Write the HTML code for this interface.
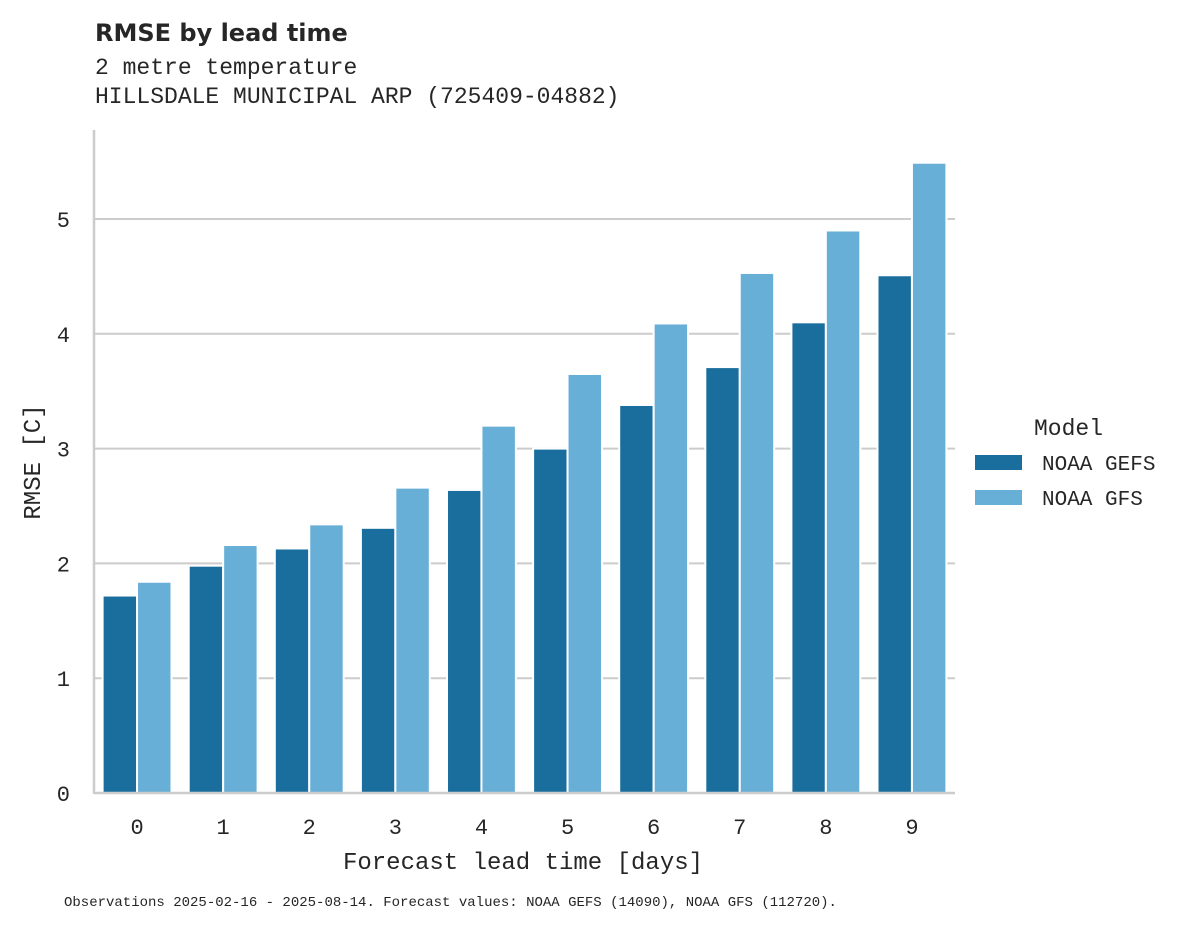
<!DOCTYPE html>
<html><head><meta charset="utf-8"><style>
body{margin:0;background:#fff;}
svg text{fill:#262626;}
</style></head><body>
<svg id="chart" width="1195" height="928" xmlns="http://www.w3.org/2000/svg">
<text x="95" y="41" font-family="DejaVu Sans, Liberation Sans, sans-serif" font-weight="bold" font-size="24">RMSE by lead time</text>
<text x="95" y="74" font-family="Liberation Mono, monospace" font-size="23">2 metre temperature</text>
<text x="95" y="103" font-family="Liberation Mono, monospace" font-size="23">HILLSDALE MUNICIPAL ARP (725409-04882)</text>
<g id="grid"></g>
<g id="bars"></g>
<g id="axes"></g>
<text x="523" y="869" text-anchor="middle" font-family="Liberation Mono, monospace" font-size="24">Forecast lead time [days]</text>
<text transform="translate(40,462) rotate(-90)" text-anchor="middle" font-family="Liberation Mono, monospace" font-size="24">RMSE [C]</text>
<text x="1034" y="435" font-family="Liberation Mono, monospace" font-size="23">Model</text>
<rect x="975" y="455" width="47" height="15" fill="#1a6e9e"/>
<text x="1042" y="470" font-family="Liberation Mono, monospace" font-size="21">NOAA GEFS</text>
<rect x="975" y="490" width="47" height="15" fill="#67afd7"/>
<text x="1042" y="505" font-family="Liberation Mono, monospace" font-size="21">NOAA GFS</text>
<text x="64" y="906" font-family="Liberation Mono, monospace" font-size="14">Observations 2025-02-16 - 2025-08-14. Forecast values: NOAA GEFS (14090), NOAA GFS (112720).</text>
</svg>
<script>
const categories=["0","1","2","3","4","5","6","7","8","9"];
const gefsValues=[1.72,1.98,2.13,2.31,2.64,3.00,3.38,3.71,4.10,4.51];
const gfsValues=[1.84,2.16,2.34,2.66,3.20,3.65,4.09,4.53,4.90,5.49];
const yTicks=[0,1,2,3,4,5];
const NS="http://www.w3.org/2000/svg";
const x0=94,x1=955,y0=793,yTop=130,pxPerUnit=114.8;
const band=(x1-x0)/categories.length;
const ys=v=>y0-v*pxPerUnit;
const xc=i=>x0+band*(i+0.5);
function mk(t,a){const e=document.createElementNS(NS,t);for(const k in a)e.setAttribute(k,a[k]);return e;}
const grid=document.getElementById('grid'),bars=document.getElementById('bars'),axes=document.getElementById('axes');
yTicks.forEach(t=>{
  if(t>0){const l=mk('line',{x1:x0,x2:x1,y1:ys(t),y2:ys(t),stroke:'#cccccc','stroke-width':2});
  
  
  grid.appendChild(l);}
  const tx=mk('text',{x:70,y:ys(t)+8,'text-anchor':'end','font-family':'Liberation Mono, monospace','font-size':22});
  tx.textContent=t;
  
  
  axes.appendChild(tx);
});
const bw=band*0.8/2;
categories.forEach((c,i)=>{
  [[gefsValues[i],'#1a6e9e',-1,'bar-gefs-'+c],[gfsValues[i],'#67afd7',0,'bar-gfs-'+c]].forEach(([v,col,off,nm])=>{
    const r=mk('rect',{x:xc(i)+off*bw,y:ys(v),width:bw,height:v*pxPerUnit,fill:col,stroke:'#fff','stroke-width':2});
    
    
    bars.appendChild(r);
  });
  const tx=mk('text',{x:xc(i),y:834,'text-anchor':'middle','font-family':'Liberation Mono, monospace','font-size':22});
  tx.textContent=c;
  
  
  axes.appendChild(tx);
});
const ls=mk('line',{x1:x0,x2:x0,y1:yTop,y2:y0+1,stroke:'#cccccc','stroke-width':2.5});


axes.appendChild(ls);
const bs=mk('line',{x1:x0,x2:x1,y1:y0,y2:y0,stroke:'#cccccc','stroke-width':2.5});


axes.appendChild(bs);
</script>
</body></html>
